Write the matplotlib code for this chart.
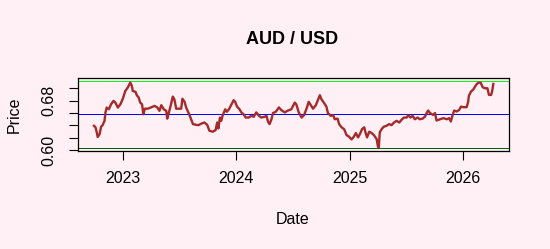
import matplotlib
matplotlib.use("Agg")
import matplotlib.pyplot as plt
import matplotlib.dates as mdates
import numpy as np
import pandas as pd

dates = [
    "2022-09-30", "2022-10-05", "2022-10-09", "2022-10-12", "2022-10-18", "2022-10-23",
    "2022-10-28", "2022-11-03", "2022-11-06", "2022-11-10", "2022-11-17", "2022-11-24",
    "2022-12-02", "2022-12-08", "2022-12-16", "2022-12-24", "2023-01-01", "2023-01-09",
    "2023-01-17", "2023-01-22", "2023-01-25", "2023-01-30", "2023-02-02", "2023-02-11",
    "2023-02-15", "2023-02-21", "2023-02-26", "2023-03-04", "2023-03-08", "2023-03-13",
    "2023-03-22", "2023-04-02", "2023-04-13", "2023-04-22", "2023-04-29", "2023-05-05",
    "2023-05-13", "2023-05-21", "2023-05-24", "2023-05-28", "2023-06-04", "2023-06-11",
    "2023-06-16", "2023-06-22", "2023-07-03", "2023-07-08", "2023-07-12", "2023-07-19",
    "2023-07-24", "2023-07-29", "2023-08-04", "2023-08-09", "2023-08-15", "2023-08-26",
    "2023-09-02", "2023-09-11", "2023-09-21", "2023-09-30", "2023-10-07", "2023-10-18",
    "2023-10-27", "2023-11-01", "2023-11-05", "2023-11-10", "2023-11-14", "2023-11-19",
    "2023-11-27", "2023-12-02", "2023-12-09", "2023-12-17", "2023-12-24", "2023-12-29",
    "2024-01-04", "2024-01-12", "2024-01-18", "2024-01-25", "2024-02-01", "2024-02-11",
    "2024-02-19", "2024-02-27", "2024-03-06", "2024-03-15", "2024-03-22", "2024-04-02",
    "2024-04-08", "2024-04-13", "2024-04-18", "2024-04-24", "2024-04-29", "2024-05-08",
    "2024-05-18", "2024-05-26", "2024-06-06", "2024-06-16", "2024-06-27", "2024-07-08",
    "2024-07-13", "2024-07-21", "2024-07-30", "2024-08-07", "2024-08-15", "2024-08-22",
    "2024-08-29", "2024-09-05", "2024-09-14", "2024-09-21", "2024-09-27", "2024-10-02",
    "2024-10-11", "2024-10-18", "2024-10-23", "2024-11-01", "2024-11-09", "2024-11-14",
    "2024-11-23", "2024-11-28", "2024-12-06", "2024-12-14", "2024-12-22", "2024-12-30",
    "2025-01-07", "2025-01-14", "2025-01-21", "2025-01-28", "2025-02-03", "2025-02-10",
    "2025-02-17", "2025-02-21", "2025-02-26", "2025-03-05", "2025-03-13", "2025-03-20",
    "2025-03-29", "2025-04-02", "2025-04-05", "2025-04-08", "2025-04-14", "2025-04-21",
    "2025-04-30", "2025-05-08", "2025-05-16", "2025-05-24", "2025-06-01", "2025-06-10",
    "2025-06-17", "2025-06-25", "2025-07-04", "2025-07-09", "2025-07-16", "2025-07-23",
    "2025-07-30", "2025-08-08", "2025-08-15", "2025-08-24", "2025-09-01", "2025-09-06",
    "2025-09-11", "2025-09-17", "2025-09-27", "2025-10-03", "2025-10-08", "2025-10-19",
    "2025-10-30", "2025-11-10", "2025-11-18", "2025-11-23", "2025-11-29", "2025-12-04",
    "2025-12-12", "2025-12-20", "2025-12-26", "2026-01-02", "2026-01-13", "2026-01-18",
    "2026-01-20", "2026-01-27", "2026-02-04", "2026-02-09", "2026-02-15", "2026-02-20",
    "2026-02-27", "2026-03-06", "2026-03-13", "2026-03-21", "2026-03-26", "2026-04-02",
    "2026-04-05", "2026-04-09",
]

price = [
    0.6395, 0.6370, 0.6290, 0.6215, 0.6260, 0.6380,
    0.6406, 0.6475, 0.6610, 0.6688, 0.6662, 0.6740,
    0.6795, 0.6768, 0.6688, 0.6740, 0.6830, 0.6955,
    0.7010, 0.7062, 0.7090, 0.7035, 0.6955, 0.6940,
    0.6886, 0.6850, 0.6768, 0.6740, 0.6580, 0.6670,
    0.6670, 0.6690, 0.6715, 0.6690, 0.6635, 0.6726,
    0.6660, 0.6635, 0.6510, 0.6580, 0.6715, 0.6864,
    0.6822, 0.6670, 0.6670, 0.6670, 0.6830, 0.6780,
    0.6690, 0.6635, 0.6566, 0.6502, 0.6422, 0.6410,
    0.6406, 0.6430, 0.6448, 0.6410, 0.6315, 0.6300,
    0.6326, 0.6448, 0.6352, 0.6528, 0.6475, 0.6566,
    0.6660, 0.6620, 0.6660, 0.6740, 0.6806, 0.6780,
    0.6704, 0.6660, 0.6610, 0.6580, 0.6528, 0.6528,
    0.6555, 0.6540, 0.6610, 0.6555, 0.6528, 0.6540,
    0.6555, 0.6460, 0.6422, 0.6500, 0.6600, 0.6620,
    0.6690, 0.6646, 0.6610, 0.6640, 0.6660, 0.6768,
    0.6740, 0.6610, 0.6528, 0.6566, 0.6670, 0.6780,
    0.6726, 0.6670, 0.6726, 0.6811, 0.6886, 0.6822,
    0.6758, 0.6704, 0.6600, 0.6555, 0.6566, 0.6500,
    0.6510, 0.6422, 0.6370, 0.6342, 0.6246, 0.6220,
    0.6176, 0.6216, 0.6278, 0.6208, 0.6262, 0.6342,
    0.6370, 0.6290, 0.6208, 0.6300, 0.6278, 0.6246,
    0.6182, 0.6064, 0.6045, 0.6290, 0.6342, 0.6380,
    0.6395, 0.6422, 0.6406, 0.6448, 0.6475, 0.6448,
    0.6490, 0.6528, 0.6528, 0.6566, 0.6528, 0.6555,
    0.6500, 0.6528, 0.6500, 0.6510, 0.6544, 0.6600,
    0.6640, 0.6600, 0.6570, 0.6600, 0.6480, 0.6500,
    0.6518, 0.6500, 0.6518, 0.6464, 0.6570, 0.6640,
    0.6624, 0.6651, 0.6704, 0.6694, 0.6694, 0.6784,
    0.6875, 0.6944, 0.6982, 0.7024, 0.7067, 0.7088,
    0.7088, 0.7014, 0.6998, 0.6998, 0.6891, 0.6891,
    0.6944, 0.7067,
]

mean_level = 0.6587
upper_level = 0.7115
lower_level = 0.6038

y_ticks = [0.60, 0.62, 0.64, 0.66, 0.68, 0.70]
y_tick_labels = ["0.60", "", "", "", "0.68", ""]
x_tick_years = [2023, 2024, 2025, 2026]

bg = "#FFF0F5"
W, H = 550, 249
dpi = 100
fig = plt.figure(figsize=(W / dpi, H / dpi), dpi=dpi, facecolor=bg)
L, R, T, B = 78, 509.3, 78.3, 150.7
ax = fig.add_axes([L / W, 1 - B / H, (R - L) / W, (B - T) / H], facecolor=bg)

x = pd.to_datetime(dates)
ax.plot(x, price, color="#A52A2A", lw=1.7, solid_joinstyle="round", zorder=3)
ax.axhline(mean_level, color="#0000FF", lw=0.72, zorder=2, antialiased=False)
ax.axhline(upper_level, color="#00FF00", lw=0.72, zorder=2, antialiased=False)
ax.axhline(lower_level, color="#006400", lw=0.72, zorder=2, antialiased=False)

xn = mdates.date2num(x)
xr = xn.max() - xn.min()
ax.set_xlim(xn.min() - 0.04 * xr, xn.max() + 0.04 * xr)
yr = upper_level - lower_level
ax.set_ylim(lower_level - 0.04 * yr, upper_level + 0.04 * yr)

font = "Liberation Sans"
ax.set_yticks(y_ticks)
ax.set_yticklabels(y_tick_labels, rotation=90, va="center", fontsize=11.5, family=font)
ax.set_xticks([mdates.date2num(pd.Timestamp(f"{y}-01-01")) for y in x_tick_years])
ax.set_xticklabels([str(y) for y in x_tick_years], fontsize=11.5, family=font)
ax.tick_params(axis="both", direction="out", length=6.5, width=0.8, color="black")
ax.tick_params(axis="x", pad=8)
ax.tick_params(axis="y", pad=9)
for s in ax.spines.values():
    s.set_linewidth(0.9)
    s.set_color("black")

fig.text(292 / W, 1 - 40 / H, "AUD / USD", ha="center", va="center",
         fontsize=13, fontweight="bold", family=font)
fig.text(293 / W, 1 - 219 / H, "Date", ha="center", va="center", fontsize=11.5, family=font)
fig.text(14 / W, 1 - 114.5 / H, "Price", ha="center", va="center", rotation=90,
         fontsize=11.5, family=font)

fig.savefig("out.png", dpi=dpi, facecolor=bg)
